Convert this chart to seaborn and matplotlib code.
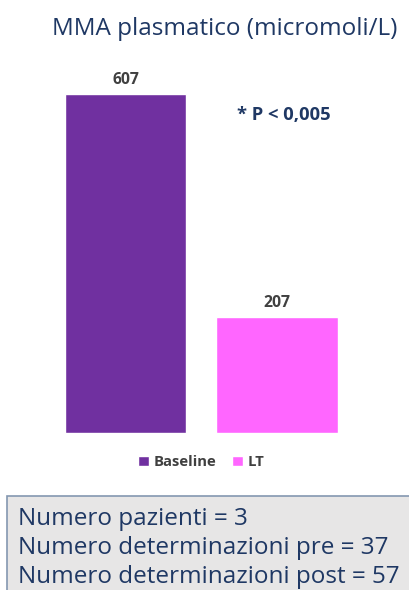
import matplotlib
matplotlib.use("Agg")
import matplotlib.pyplot as plt
from matplotlib.patches import Rectangle
import seaborn as sns
import pandas as pd

# Plasma MMA means before and after liver transplant
groups = ["Baseline", "LT"]
mma_values = [607, 207]
bar_colors = ["#7030a0", "#ff66ff"]
title = "MMA plasmatico (micromoli/L)"
p_text = "* P < 0,005"
info_lines = [
    "Numero pazienti = 3",
    "Numero determinazioni pre = 37",
    "Numero determinazioni post = 57",
]

sns.set_theme(style="white")
plt.rcParams["font.family"] = ["Open Sans", "DejaVu Sans"]

navy = "#1f3864"
grey_txt = "#404040"

W, H = 409, 590
fig = plt.figure(figsize=(W / 100, H / 100), dpi=100)
fig.patch.set_facecolor("white")

# axes placed in pixel terms
ax_left, ax_right = 49.75, 352.75
ax_top, ax_bottom = 42, 433
ax = fig.add_axes([ax_left / W, 1 - ax_bottom / H,
                   (ax_right - ax_left) / W, (ax_bottom - ax_top) / H])

df = pd.DataFrame({"group": groups, "value": mma_values})
sns.barplot(data=df, x="group", y="value", hue="group", palette=bar_colors,
            width=0.8, legend=True, ax=ax, saturation=1)
ax.set_xlim(-0.5, 1.5)
ax.set_ylim(0, 700)
ax.set_axis_off()

for i, v in enumerate(mma_values):
    ax.text(i, v + 11, f"{v}", ha="center", va="bottom", fontsize=11.3,
            fontweight="bold", color=grey_txt)

ax.text(1.045, 569, p_text, ha="center", va="center", fontsize=13.2,
        fontweight="bold", color=navy)

sns.move_legend(ax, "center", bbox_to_anchor=(0.5, -0.074), ncol=2,
                frameon=False, title=None, fontsize=10.7, handlelength=0.7,
                handleheight=0.7, handletextpad=0.3, columnspacing=1.1)
for t in ax.get_legend().get_texts():
    t.set_fontweight("bold")
    t.set_color(grey_txt)

fig.text(225 / W, 1 - 29 / H, title, ha="center", va="center",
         fontsize=17.5, color=navy)

# info box at the bottom
fig.patches.append(Rectangle((7 / W, -0.01), 1.0, 1 - 496 / H + 0.01,
                             transform=fig.transFigure, facecolor="#e7e6e6",
                             edgecolor="#8497b0", linewidth=1.2))
for k, line in enumerate(info_lines):
    fig.text(18 / W, 1 - (519 + 29 * k) / H, line, ha="left", va="center",
             fontsize=17.5, color=navy)

fig.savefig("out.png", dpi=100)
